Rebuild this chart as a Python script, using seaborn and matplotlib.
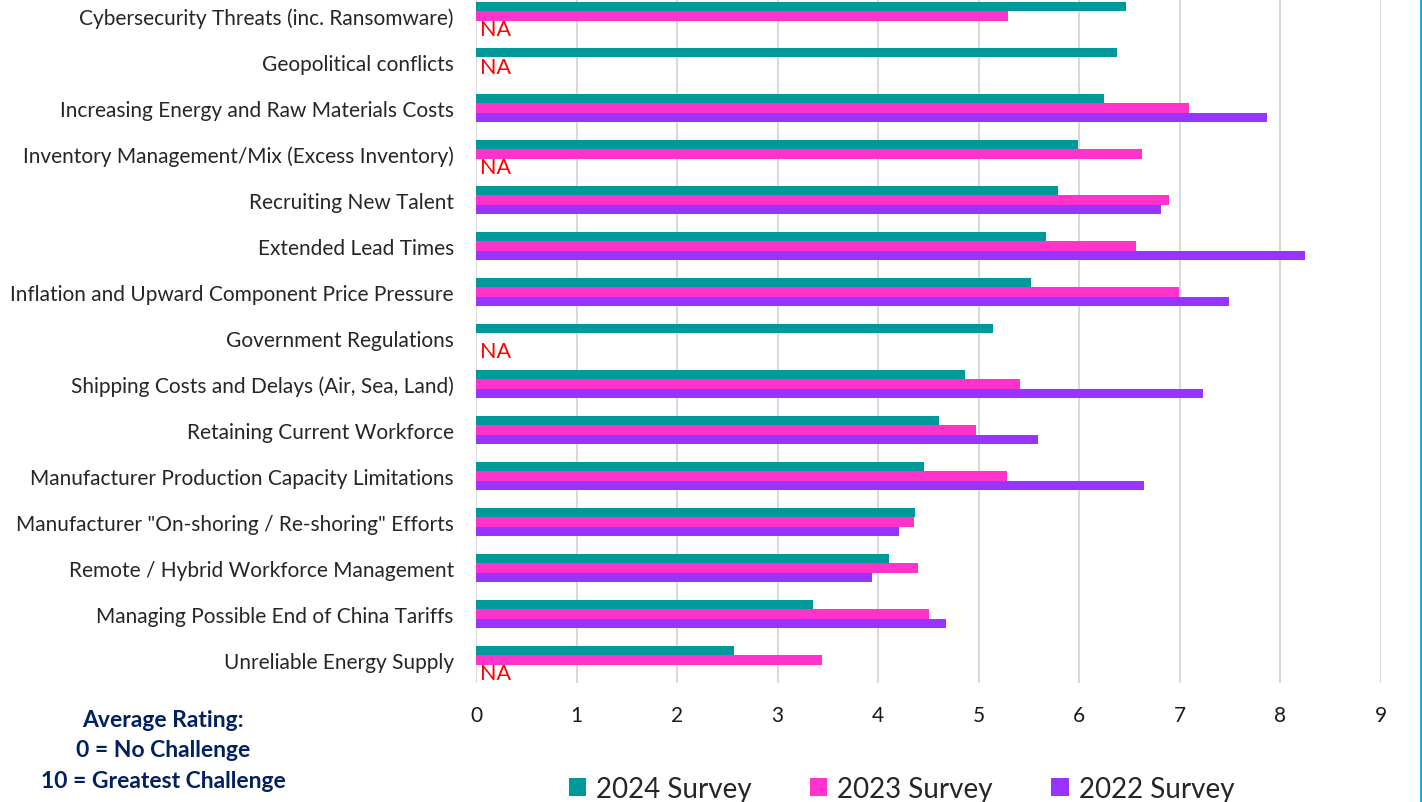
import numpy as np
import pandas as pd
import matplotlib.pyplot as plt
from matplotlib.lines import Line2D
import seaborn as sns

# === Données ===
challenges = [
    'Cybersecurity Threats (inc. Ransomware)',
    'Geopolitical conflicts',
    'Increasing Energy and Raw Materials Costs',
    'Inventory Management/Mix (Excess Inventory)',
    'Recruiting New Talent',
    'Extended Lead Times',
    'Inflation and Upward Component Price Pressure',
    'Government Regulations',
    'Shipping Costs and Delays (Air, Sea, Land)',
    'Retaining Current Workforce',
    'Manufacturer Production Capacity Limitations',
    'Manufacturer "On-shoring / Re-shoring" Efforts',
    'Remote / Hybrid Workforce Management',
    'Managing Possible End of China Tariffs',
    'Unreliable Energy Supply',
]
survey_2024 = [6.46, 6.37, 6.25, 5.99, 5.79, 5.67, 5.52, 5.14, 4.86, 4.60, 4.46, 4.37, 4.11, 3.35, 2.57]
survey_2023 = [5.29, np.nan, 7.09, 6.62, 6.89, 6.56, 6.99, np.nan, 5.41, 4.97, 5.28, 4.36, 4.40, 4.50, 3.44]
survey_2022 = [np.nan, np.nan, 7.87, np.nan, 6.81, 8.24, 7.49, np.nan, 7.23, 5.59, 6.64, 4.21, 3.94, 4.67, np.nan]
series_names = ['2024 Survey', '2023 Survey', '2022 Survey']
colors = ['#009999', '#ff33cc', '#9933ff']
xticks = list(range(0, 10))
# lignes avec la mention "NA"
na_rows = ['Cybersecurity Threats (inc. Ransomware)', 'Geopolitical conflicts',
           'Inventory Management/Mix (Excess Inventory)', 'Government Regulations',
           'Unreliable Energy Supply']

df = pd.DataFrame({
    'challenge': challenges * 3,
    'survey': np.repeat(series_names, len(challenges)),
    'rating': survey_2024 + survey_2023 + survey_2022,
})

sns.set_style('white')
plt.rcParams['font.family'] = ['Lato', 'DejaVu Sans']

fig = plt.figure(figsize=(14.22, 8.03), dpi=100)
ax = fig.add_axes([476 / 1422, 1 - 684 / 803, (1381 - 476) / 1422, 690 / 803])

sns.barplot(data=df.dropna(), y='challenge', x='rating', hue='survey',
            order=challenges, hue_order=series_names, palette=colors,
            orient='h', width=0.6, errorbar=None, saturation=1,
            linewidth=0, ax=ax)

# NA placé à mi-hauteur sous les barres présentes
for name in na_rows:
    i = challenges.index(name)
    shift = 0.11 if name == 'Geopolitical conflicts' else 0.29
    ax.text(0.04, i + shift, 'NA', color='#ff0000', fontsize=15.5,
            ha='left', va='center')

ax.set_xlim(0, 9)
ax.set_ylim(len(challenges) - 0.5, -0.5)
ax.set_xticks(xticks)
ax.grid(axis='x', color='#d9d9d9', linewidth=1.5)
ax.set_axisbelow(True)
for s in ax.spines.values():
    s.set_visible(False)
ax.set_xlabel('')
ax.set_ylabel('')
ax.tick_params(axis='y', length=0, pad=16, labelsize=15, labelcolor='#262626')
ax.tick_params(axis='x', length=0, pad=16, labelsize=15, labelcolor='#1a1a1a')

handles, labels = ax.get_legend_handles_labels()
ax.legend_.remove()
fig.legend(handles, labels, loc='center', bbox_to_anchor=(0.634, 0.016),
           ncol=3, frameon=False, fontsize=20, handlelength=0.62,
           handleheight=0.62, handletextpad=0.36, columnspacing=2.1)

fig.text(163 / 1422, 1 - 751 / 803,
         'Average Rating:\n0 = No Challenge\n10 = Greatest Challenge',
         ha='center', va='center', fontsize=16.5, fontweight='bold',
         color='#002060', linespacing=1.57)

fig.add_artist(Line2D([1420.5 / 1422] * 2, [0, 1], color='#00b0f0', linewidth=2))

fig.savefig('out.png', dpi=100)
